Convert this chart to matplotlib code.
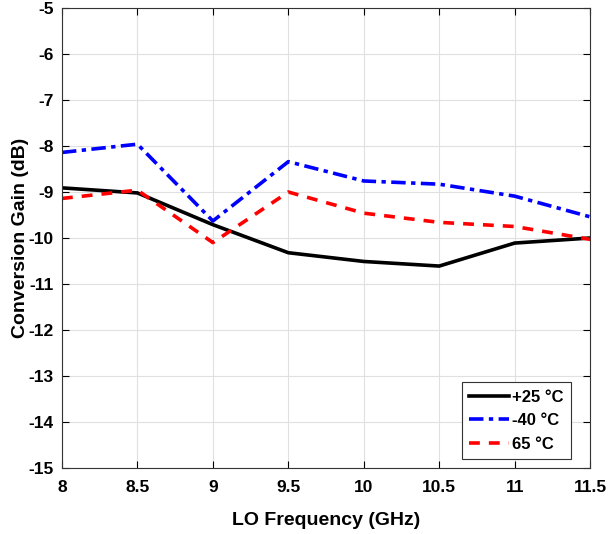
import matplotlib
matplotlib.use('Agg')
import matplotlib.pyplot as plt

# LO frequency sweep (GHz) and conversion gain (dB) per temperature
freq = [8, 8.5, 9, 9.5, 10, 10.5, 11, 11.5]
gain_p25 = [-8.91, -9.02, -9.71, -10.32, -10.51, -10.61, -10.11, -10.0]
gain_m40 = [-8.14, -7.96, -9.63, -8.34, -8.76, -8.83, -9.09, -9.54]
gain_p65 = [-9.14, -8.96, -10.1, -9.0, -9.46, -9.66, -9.75, -10.03]
labels = ['+25 \u00b0C', '-40 \u00b0C', '65 \u00b0C']

plt.rcParams['font.family'] = ['Liberation Sans', 'DejaVu Sans']
plt.rcParams['font.weight'] = 'bold'
plt.rcParams['axes.unicode_minus'] = False

fig = plt.figure(figsize=(6.16, 5.34), dpi=100)
ax = fig.add_axes([0.1006, 0.1236, 0.8574, 0.8614])

ax.plot(freq, gain_p25, color='black', linewidth=2.6, label=labels[0])
ax.plot(freq, gain_m40, color='blue', linewidth=2.6, linestyle=(0, (4, 1.5, 1.2, 1.5)), label=labels[1])
ax.plot(freq, gain_p65, color='red', linewidth=2.6, linestyle=(0, (3, 2.5)), label=labels[2])

ax.set_xlim(8, 11.5)
ax.set_ylim(-15, -5)
ax.set_xticks(freq)
ax.set_xticklabels(['8', '8.5', '9', '9.5', '10', '10.5', '11', '11.5'])
ax.set_yticks(range(-15, -4))
ax.grid(True, color='#e0e0e0', linewidth=0.8)
ax.set_axisbelow(True)
ax.tick_params(direction='in', top=True, right=True, labelsize=12.5, length=5, width=0.8)
ax.tick_params(axis='x', pad=9)
ax.tick_params(axis='y', pad=6)
for lbl in ax.get_xticklabels() + ax.get_yticklabels():
    lbl.set_fontweight('bold')
for sp in ax.spines.values():
    sp.set_linewidth(0.8)
    sp.set_color('#333333')

ax.set_xlabel('LO Frequency (GHz)', fontsize=14, fontweight='bold', labelpad=12)
ax.set_ylabel('Conversion Gain (dB)', fontsize=14, fontweight='bold')
ax.yaxis.set_label_coords(-0.062, 0.5)

leg = ax.legend(loc='lower right', bbox_to_anchor=(0.97, 0.012), fancybox=False,
                edgecolor='#333333', framealpha=1, fontsize=12, handlelength=2.4,
                handletextpad=0.15, borderpad=0.45, labelspacing=0.5,
                borderaxespad=0.2)
leg.get_frame().set_linewidth(0.8)

fig.savefig('out.png', dpi=100)
